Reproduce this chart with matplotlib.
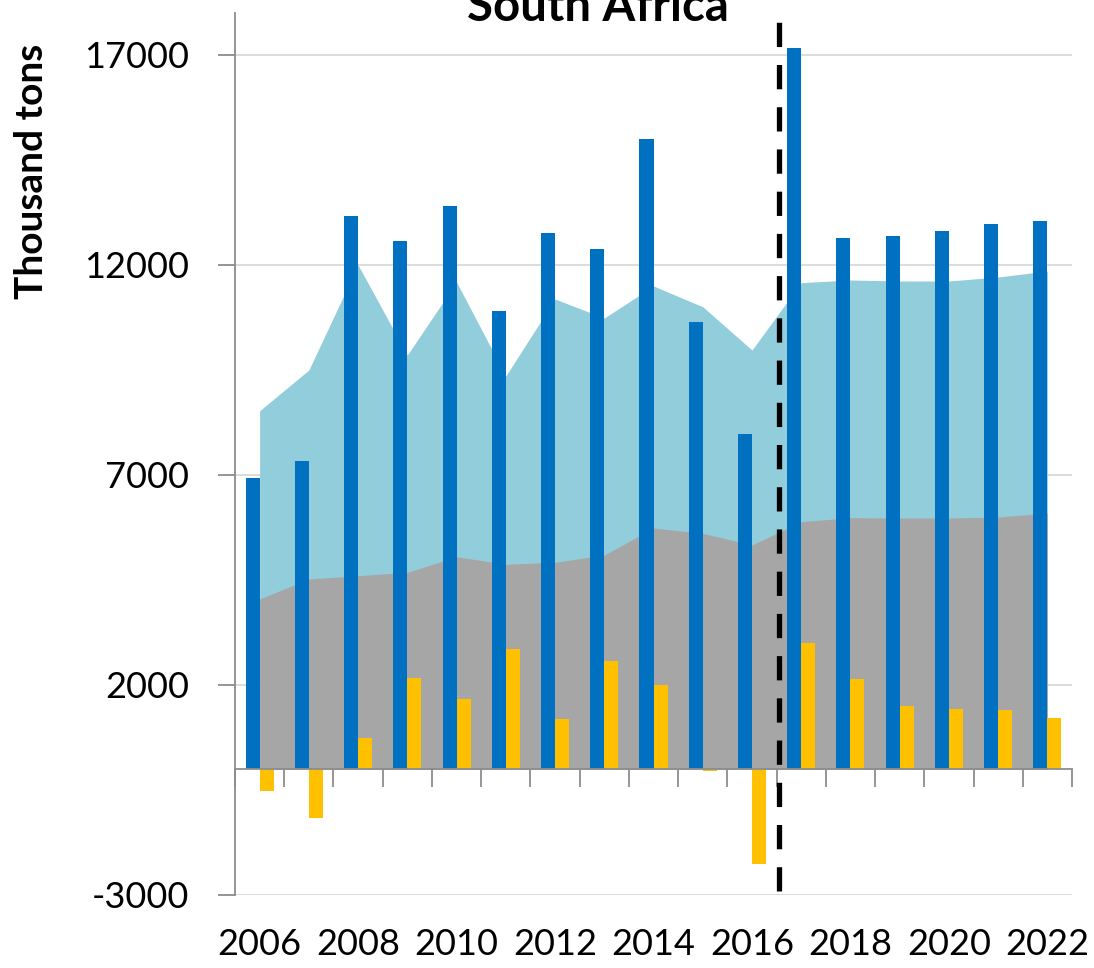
import matplotlib
matplotlib.use("Agg")
import matplotlib.pyplot as plt
import numpy as np

years = list(range(2006, 2023))
production = [6930, 7333, 13167, 12571, 13405, 10905, 12762, 12381, 15000,
              10640, 7970, 17167, 12643, 12690, 12810, 12976, 13048]
net_exports = [-516, -1159, 746, 2175, 1667, 2857, 1183, 2563, 2008,
               -40, -2270, 3008, 2135, 1500, 1429, 1397, 1206]
food_use = [4048, 4524, 4603, 4683, 5055, 4873, 4921, 5095, 5738,
            5611, 5333, 5889, 5984, 5976, 5976, 6000, 6095]
total_use = [8531, 9500, 12000, 9857, 11595, 9357, 11190, 10738, 11500,
             11007, 9976, 11579, 11643, 11619, 11619, 11714, 11857]
yticks = [-3000, 2000, 7000, 12000, 17000]
label_years = [y for y in years if y % 2 == 0]

plt.rcParams['font.family'] = ['Lato', 'DejaVu Sans']

fig = plt.figure(figsize=(10.94, 9.68), dpi=100)
ax = fig.add_axes([235/1094, 1-895/968, (1072-235)/1094, (895-13)/968])

x = np.arange(len(years))
ax.fill_between(x, 0, total_use, color='#92CDDC', lw=0, zorder=1)
ax.fill_between(x, 0, food_use, color='#A6A6A6', lw=0, zorder=1.1)
w = 0.285
ax.bar(x, production, width=-w, align='edge', color='#0070C0', zorder=2)
ax.bar(x, net_exports, width=w, align='edge', color='#FFC000', zorder=2)

ax.set_xlim(-0.5, len(years) - 0.5)
ax.set_ylim(-3000, 18000)
ax.set_yticks(yticks)
ax.set_yticklabels([str(v) for v in yticks], fontsize=26)
ax.yaxis.grid(True, color='#D9D9D9', lw=1.3, zorder=0)
ax.set_axisbelow(True)
ax.tick_params(axis='y', length=12, width=1.3, color='#8C8C8C', pad=21)

ax.set_xticks([years.index(y) for y in label_years])
ax.set_xticklabels([str(y) for y in label_years], fontsize=26)
ax.tick_params(axis='x', length=0, pad=24)

for s in ['top', 'right', 'bottom']:
    ax.spines[s].set_visible(False)
ax.spines['left'].set_color('#8C8C8C')
ax.spines['left'].set_linewidth(1.3)

zero_frac = (0 - (-3000)) / (18000 - (-3000))
sec = ax.secondary_xaxis(zero_frac)
sec.set_xticks(np.arange(len(years) + 1) - 0.5)
sec.set_xticklabels([])
sec.tick_params(length=13, width=1.3, color='#8C8C8C', direction='out')
sec.spines['bottom'].set_color('#8C8C8C')
sec.spines['bottom'].set_linewidth(1.3)
sec.set_zorder(3)

ax.axvline(10.54, ymin=(-2900 + 3000) / 21000, ymax=1.0, color='black',
           lw=3.8, dashes=(4.6, 3.4), zorder=4)

ax.set_ylabel('Thousand tons', fontsize=28, fontweight='bold')
ax.yaxis.set_label_coords(-0.222, 0.82)

fig.text(598/1094, 1 - 21/968, 'South Africa', ha='center', va='baseline',
         fontsize=34, fontweight='bold')

fig.savefig('out.png', dpi=100)
